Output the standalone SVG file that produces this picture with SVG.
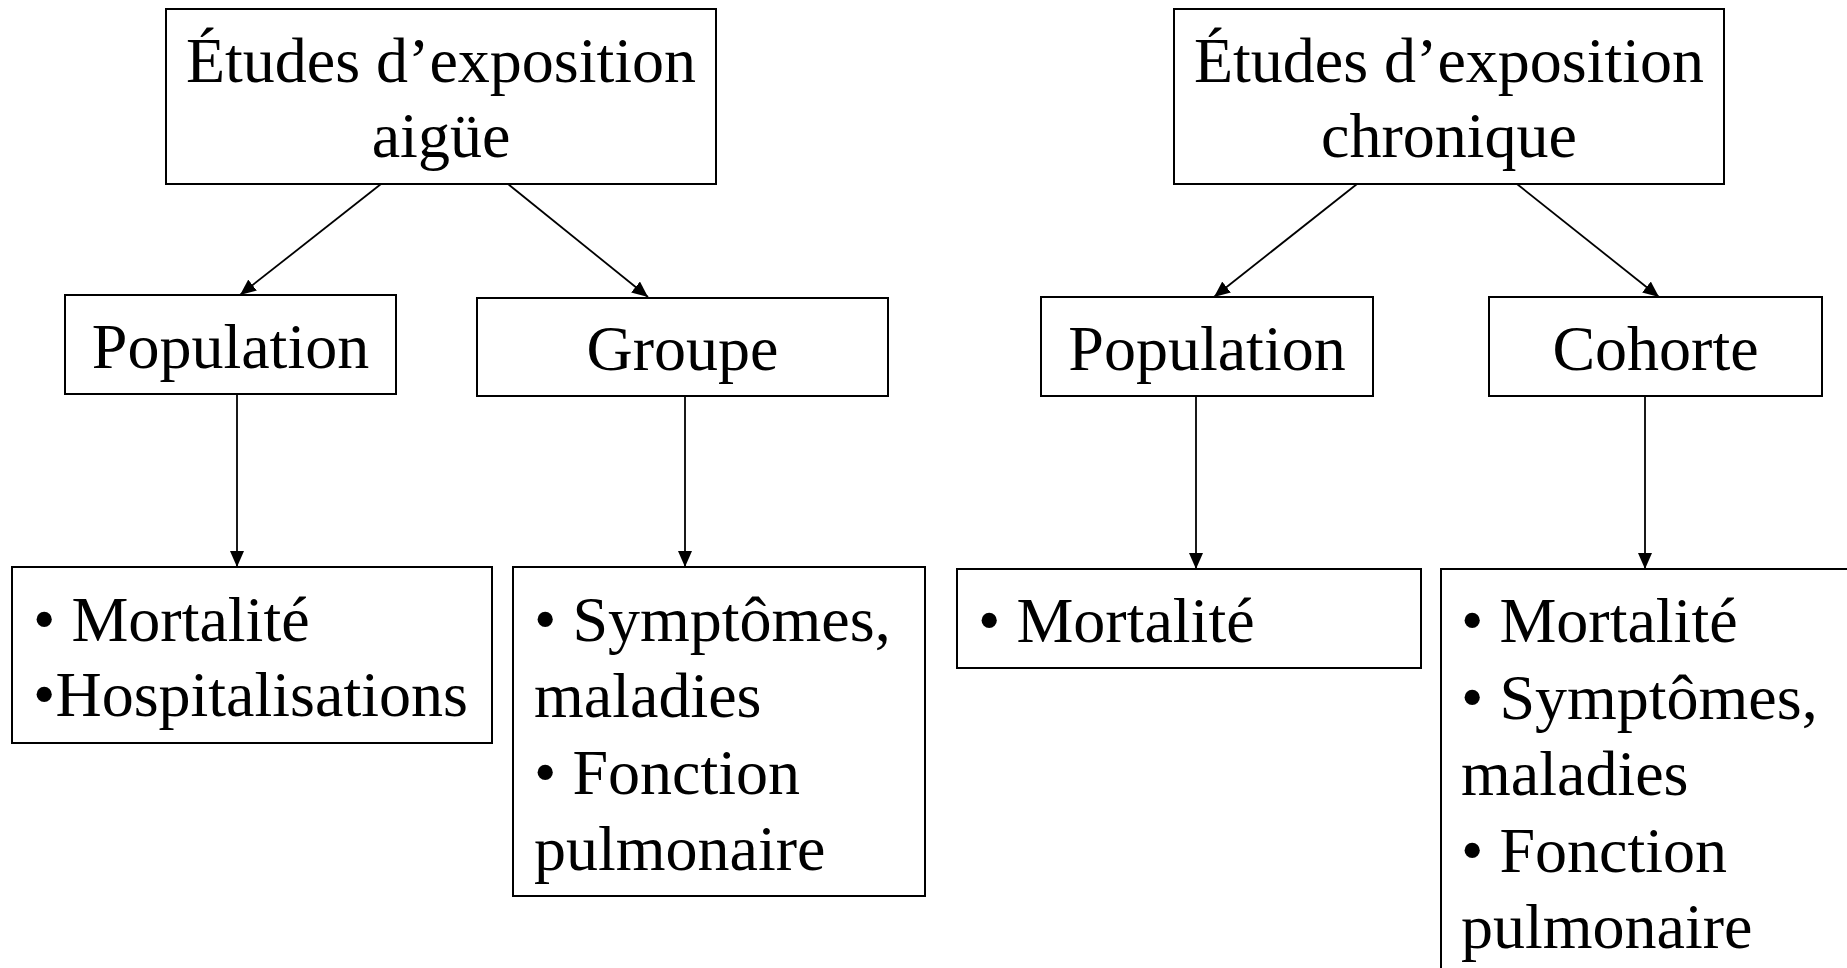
<svg xmlns="http://www.w3.org/2000/svg" width="1847" height="968" viewBox="0 0 1847 968">
<style>
.box{fill:#fff;stroke:#000;stroke-width:2}
.t{font-family:"Liberation Serif","Times New Roman",serif;font-size:64px;fill:#000}
.c{text-anchor:middle}
.edge{stroke:#000;stroke-width:1.8;fill:none}
</style>
<defs>
<marker id="arr" markerUnits="userSpaceOnUse" markerWidth="16" markerHeight="14" refX="16" refY="7" orient="auto">
<path d="M0,0 L16,7 L0,14 z" fill="#000"/>
</marker>
</defs>
<rect width="1847" height="968" fill="#fff"/>
<g id="connectors">
<line class="edge" x1="381" y1="184" x2="240" y2="295" marker-end="url(#arr)"/>
<line class="edge" x1="508" y1="184" x2="648" y2="297" marker-end="url(#arr)"/>
<line class="edge" x1="1357" y1="184" x2="1214" y2="297" marker-end="url(#arr)"/>
<line class="edge" x1="1517" y1="184" x2="1659" y2="297" marker-end="url(#arr)"/>
<line class="edge" x1="237" y1="394" x2="237" y2="567" marker-end="url(#arr)"/>
<line class="edge" x1="685" y1="396" x2="685" y2="567" marker-end="url(#arr)"/>
<line class="edge" x1="1196" y1="396" x2="1196" y2="569" marker-end="url(#arr)"/>
<line class="edge" x1="1645" y1="396" x2="1645" y2="569" marker-end="url(#arr)"/>
</g>
<g id="acute">
<rect class="box" x="166" y="9" width="550" height="175"/>
<text class="t c" x="441" y="82">Études d’exposition</text>
<text class="t c" x="441" y="157">aigüe</text>
</g>
<g id="chronic">
<rect class="box" x="1174" y="9" width="550" height="175"/>
<text class="t c" x="1449" y="82">Études d’exposition</text>
<text class="t c" x="1449" y="157">chronique</text>
</g>
<g id="pop-acute">
<rect class="box" x="65" y="295" width="331" height="99"/>
<text class="t c" x="230.5" y="368">Population</text>
</g>
<g id="groupe">
<rect class="box" x="477" y="298" width="411" height="98"/>
<text class="t c" x="682.5" y="370">Groupe</text>
</g>
<g id="pop-chronic">
<rect class="box" x="1041" y="297" width="332" height="99"/>
<text class="t c" x="1207" y="370">Population</text>
</g>
<g id="cohorte">
<rect class="box" x="1489" y="297" width="333" height="99"/>
<text class="t c" x="1655.5" y="370">Cohorte</text>
</g>
<g id="out-pop-acute">
<rect class="box" x="12" y="567" width="480" height="176"/>
<text class="t" x="33" y="641">• Mortalité</text>
<text class="t" x="33" y="716">•Hospitalisations</text>
</g>
<g id="out-groupe">
<rect class="box" x="513" y="567" width="412" height="329"/>
<text class="t" x="534" y="641">• Symptômes,</text>
<text class="t" x="534" y="717">maladies</text>
<text class="t" x="534" y="794">• Fonction</text>
<text class="t" x="534" y="870">pulmonaire</text>
</g>
<g id="out-pop-chronic">
<rect class="box" x="957" y="569" width="464" height="99"/>
<text class="t" x="978" y="642">• Mortalité</text>
</g>
<g id="out-cohorte">
<rect class="box" x="1441" y="569" width="430" height="430"/>
<text class="t" x="1461" y="642">• Mortalité</text>
<text class="t" x="1461" y="719">• Symptômes,</text>
<text class="t" x="1461" y="795">maladies</text>
<text class="t" x="1461" y="872">• Fonction</text>
<text class="t" x="1461" y="948">pulmonaire</text>
</g>
</svg>
